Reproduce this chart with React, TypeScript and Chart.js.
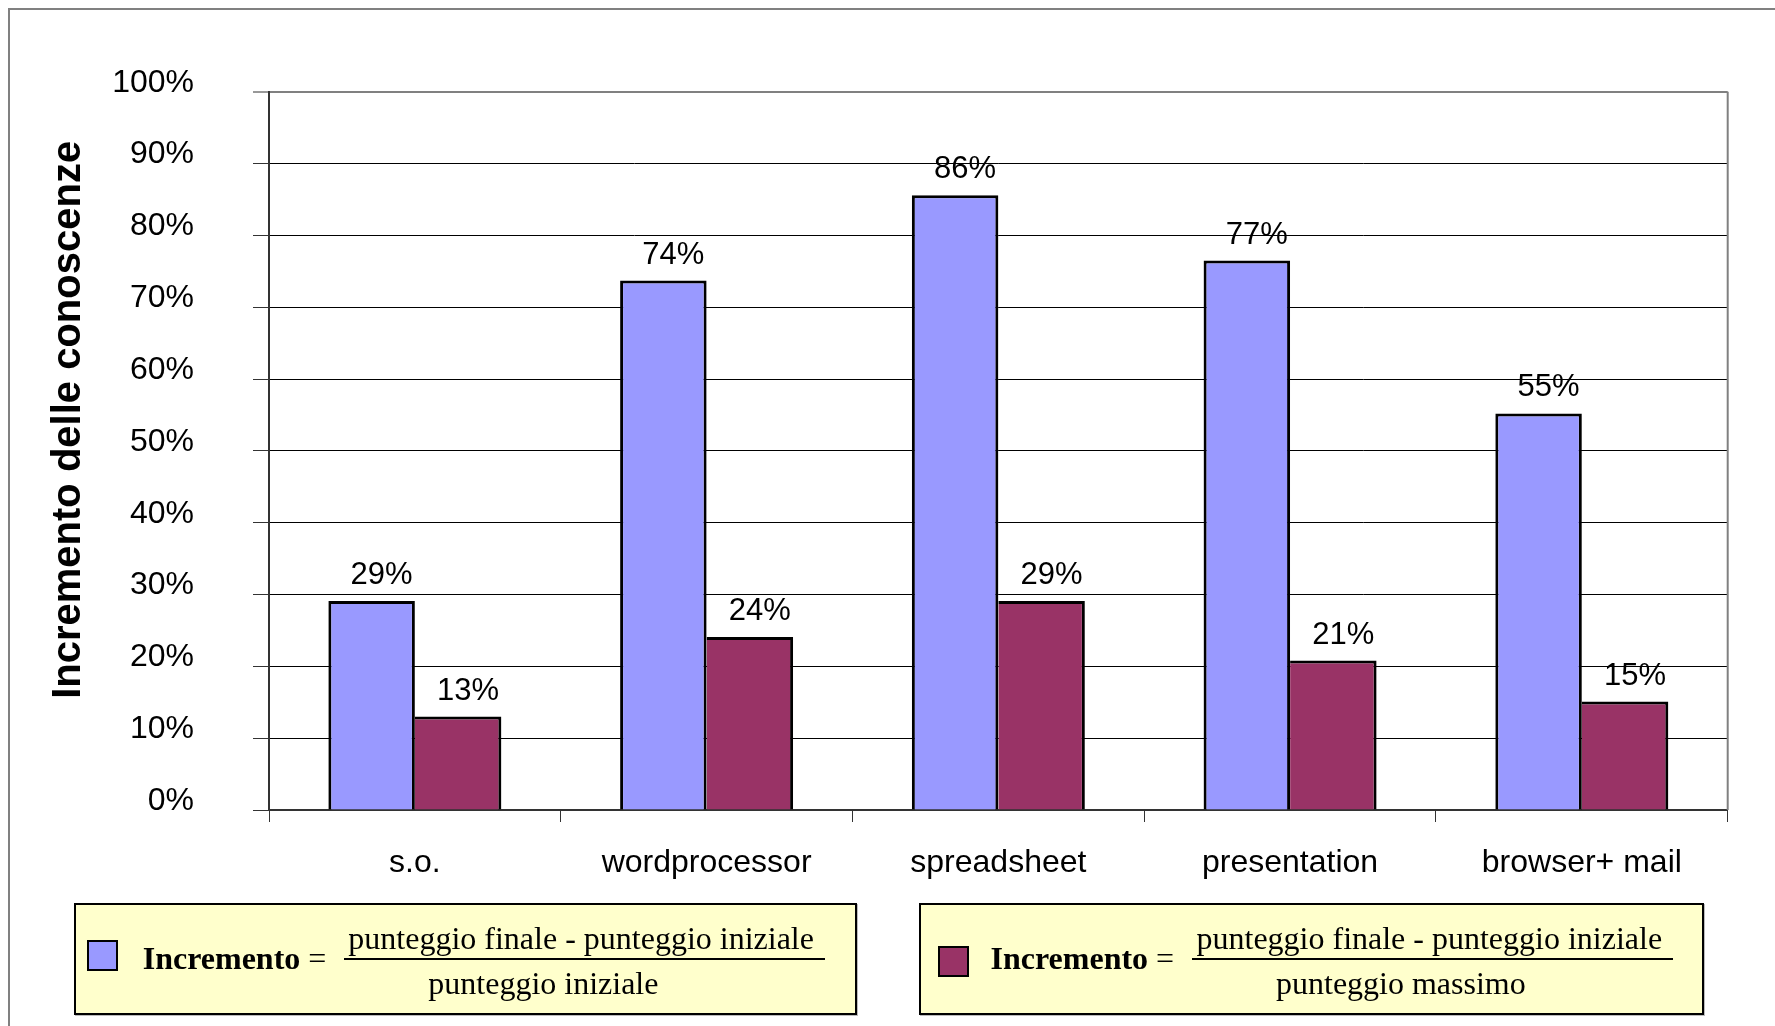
import React, { useEffect, useRef } from "react";
import { Chart, registerables } from "chart.js";

Chart.register(...registerables);

const categories = ["s.o.", "wordprocessor", "spreadsheet", "presentation", "browser+ mail"];
const incrementoSuIniziale = [29.1, 73.7, 85.6, 76.5, 55.2];
const incrementoSuMassimo = [13.0, 24.1, 29.1, 20.8, 15.1];
const yTickValues = [0, 10, 20, 30, 40, 50, 60, 70, 80, 90, 100];
const yAxisTitle = "Incremento delle conoscenze";
const seriesColors = ["#9999FF", "#993366"];
const denominators = ["punteggio iniziale", "punteggio massimo"];
const numeratorText = "punteggio finale - punteggio iniziale";

const SANS = '"Liberation Sans", Arial, sans-serif';
const SERIF = '"Liberation Serif", "Times New Roman", serif';

const valueLabelPlugin = {
  id: "valueLabels",
  afterDatasetsDraw(chart: any) {
    const ctx = chart.ctx;
    ctx.save();
    ctx.font = `31px ${SANS}`;
    ctx.fillStyle = "#000";
    ctx.textAlign = "center";
    ctx.textBaseline = "alphabetic";
    chart.data.datasets.forEach((ds: any, i: number) => {
      chart.getDatasetMeta(i).data.forEach((bar: any, j: number) => {
        const v = ds.data[j];
        ctx.fillText(Math.round(v) + "%", bar.x + 10, bar.y - 17);
      });
    });
    ctx.restore();
  },
};

const frameAndTitlePlugin = {
  id: "frameAndTitle",
  beforeDatasetsDraw(chart: any) {
    const { ctx, chartArea } = chart;
    ctx.save();
    ctx.strokeStyle = "#808080";
    ctx.lineWidth = 2;
    ctx.beginPath();
    ctx.moveTo(chartArea.right, chartArea.top);
    ctx.lineTo(chartArea.right, chartArea.bottom);
    ctx.stroke();
    ctx.restore();
  },
  afterDraw(chart: any) {
    const { ctx, chartArea } = chart;
    ctx.save();
    ctx.translate(72, (chartArea.top + chartArea.bottom) / 2 - 31);
    ctx.rotate(-Math.PI / 2);
    ctx.font = `bold 40px ${SANS}`;
    ctx.fillStyle = "#000";
    ctx.textAlign = "center";
    ctx.textBaseline = "alphabetic";
    ctx.fillText(yAxisTitle, 0, 0);
    ctx.restore();
  },
};

function LegendBox(props: {
  left: number;
  width: number;
  color: string;
  swatchLeft: number;
  swatchTop: number;
  textLeft: number;
  lineLeft: number;
  numLeft: number;
  denLeft: number;
  denominator: string;
}) {
  const p = props;
  return (
    <div
      style={{
        position: "absolute",
        left: p.left,
        top: 894.7,
        width: p.width,
        height: 112.3,
        boxSizing: "border-box",
        border: "2px solid #000",
        background: "#FFFFCC",
        boxShadow: "1px 1px 0 #bbb",
      }}
    >
      <div
        style={{
          position: "absolute",
          left: p.swatchLeft,
          top: p.swatchTop,
          width: 31,
          height: 31,
          boxSizing: "border-box",
          border: "2px solid #000",
          background: p.color,
        }}
      />
      <div
        style={{
          position: "absolute",
          left: p.textLeft,
          top: 37.5,
          fontFamily: SERIF,
          fontSize: 32,
          lineHeight: "32px",
          whiteSpace: "nowrap",
          color: "#000",
        }}
      >
        <b>Incremento</b> =
      </div>
      <div
        style={{
          position: "absolute",
          left: p.numLeft,
          top: 17.8,
          fontFamily: SERIF,
          fontSize: 32,
          lineHeight: "32px",
          whiteSpace: "nowrap",
          color: "#000",
        }}
      >
        {numeratorText}
      </div>
      <div
        style={{
          position: "absolute",
          left: p.lineLeft,
          top: 53.8,
          width: 481,
          height: 2,
          background: "#000",
        }}
      />
      <div
        style={{
          position: "absolute",
          left: p.denLeft,
          top: 62,
          fontFamily: SERIF,
          fontSize: 32,
          lineHeight: "32px",
          whiteSpace: "nowrap",
          color: "#000",
        }}
      >
        {p.denominator}
      </div>
    </div>
  );
}

export default function App() {
  const ref = useRef<HTMLCanvasElement>(null);

  useEffect(() => {
    const chart = new Chart(ref.current as HTMLCanvasElement, {
      type: "bar",
      data: {
        labels: categories,
        datasets: [
          {
            label: "Incremento / punteggio iniziale",
            data: incrementoSuIniziale,
            backgroundColor: seriesColors[0],
            borderColor: "#000",
            borderWidth: { top: 3, left: 3, right: 3, bottom: 0 },
            borderSkipped: false,
            categoryPercentage: 0.593,
            barPercentage: 1.0,
          },
          {
            label: "Incremento / punteggio massimo",
            data: incrementoSuMassimo,
            backgroundColor: seriesColors[1],
            borderColor: "#000",
            borderWidth: { top: 3, left: 0, right: 3, bottom: 0 },
            borderSkipped: false,
            categoryPercentage: 0.593,
            barPercentage: 1.0,
          },
        ],
      },
      options: {
        responsive: false,
        animation: false,
        devicePixelRatio: 1,
        layout: { padding: { top: 83.7, right: 39.3, left: 0, bottom: 0 } },
        plugins: {
          legend: { display: false },
          tooltip: { enabled: false },
        },
        scales: {
          x: {
            type: "category",
            offset: true,
            grid: {
              offset: true,
              drawOnChartArea: false,
              drawTicks: true,
              tickLength: 12,
              tickColor: "#333",
              tickWidth: 1,
            },
            border: { display: true, color: "#333", width: 2 },
            ticks: {
              font: { family: SANS, size: 32 },
              color: "#000",
              padding: 22,
              maxRotation: 0,
              autoSkip: false,
            },
            afterFit: (scale: any) => {
              scale.height = 208;
            },
          },
          y: {
            min: 0,
            max: 100,
            afterBuildTicks: (scale: any) => {
              scale.ticks = yTickValues.map((v) => ({ value: v }));
            },
            grid: {
              color: (c: any) => (c.tick && c.tick.value === 100 ? "#808080" : "#000"),
              lineWidth: (c: any) => (c.tick && c.tick.value === 100 ? 2 : 1),
              drawTicks: true,
              tickLength: 16,
              tickColor: "#333",
              tickWidth: 1,
            },
            border: { display: true, color: "#333", width: 2 },
            ticks: {
              font: { family: SANS, size: 32 },
              color: "#000",
              padding: 59,
              labelOffset: -9,
              callback: (v: any) => v + "%",
            },
            afterFit: (scale: any) => {
              scale.width = 261;
            },
          },
        },
      },
      plugins: [frameAndTitlePlugin, valueLabelPlugin],
    } as any);
    return () => chart.destroy();
  }, []);

  return (
    <div style={{ position: "relative", width: 1759, height: 1010 }}>
      <div
        style={{
          position: "fixed",
          left: 8,
          top: 8,
          right: 0,
          bottom: 0,
          borderTop: "2px solid #808080",
          borderLeft: "2px solid #808080",
        }}
      />
      <canvas
        ref={ref}
        width={1759}
        height={1010}
        style={{ position: "absolute", left: 0, top: 0, width: 1759, height: 1010 }}
      />
      <LegendBox
        left={66}
        width={783}
        color={seriesColors[0]}
        swatchLeft={11.3}
        swatchTop={35.3}
        textLeft={66.7}
        lineLeft={268}
        numLeft={272.3}
        denLeft={352.3}
        denominator={denominators[0]}
      />
      <LegendBox
        left={911.3}
        width={784.7}
        color={seriesColors[1]}
        swatchLeft={16.4}
        swatchTop={41.3}
        textLeft={69.2}
        lineLeft={270.7}
        numLeft={275.2}
        denLeft={354.7}
        denominator={denominators[1]}
      />
    </div>
  );
}
